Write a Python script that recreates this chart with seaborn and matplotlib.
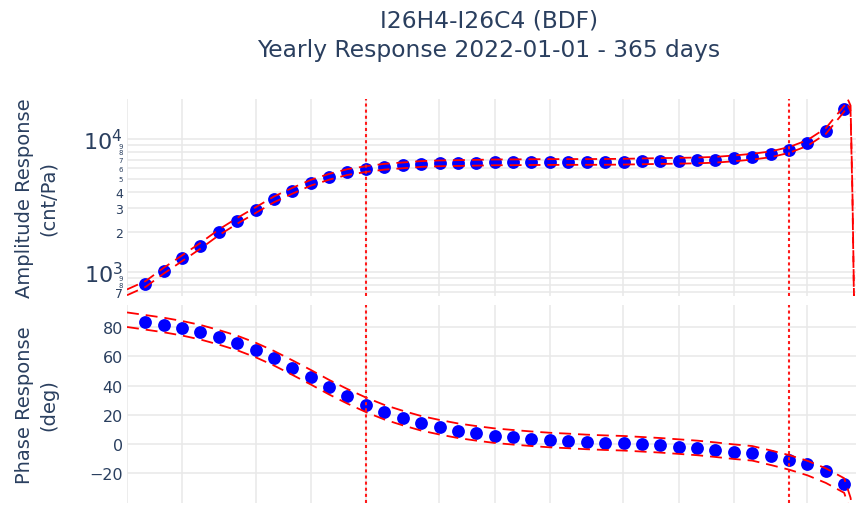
import matplotlib
matplotlib.use("Agg")
import matplotlib.pyplot as plt
import numpy as np
import pandas as pd
import seaborn as sns

# Measured response at the calibration frequencies (Hz)
freq_hz = [0.00126, 0.00158, 0.002, 0.00251, 0.00316, 0.00398, 0.00501, 0.00631, 0.00794,
           0.01, 0.0126, 0.0158, 0.02, 0.0251, 0.0316, 0.0398, 0.0501, 0.0631, 0.0794,
           0.1, 0.126, 0.158, 0.2, 0.251, 0.316, 0.398, 0.501, 0.631, 0.794,
           1.0, 1.26, 1.58, 2.0, 2.51, 3.16, 3.98, 5.01, 6.31, 7.94]
amp_cnt_pa = [808, 1017, 1268, 1571, 1982, 2423, 2916, 3514, 4078,
              4687, 5201, 5639, 5942, 6184, 6335, 6486, 6560, 6594, 6630,
              6670, 6680, 6700, 6710, 6720, 6720, 6730, 6750, 6790, 6830,
              6860, 6900, 6980, 7150, 7360, 7670, 8270, 9330, 11490, 16900]
phase_deg = [83.4, 81.6, 79.3, 76.6, 73.1, 69.2, 64.4, 58.7, 52.3,
             45.7, 38.8, 32.6, 26.7, 21.7, 17.7, 14.1, 11.4, 9.0, 7.2,
             5.6, 4.5, 3.5, 2.6, 2.0, 1.3, 0.8, 0.4, -0.3, -1.0,
             -1.9, -2.8, -4.0, -5.4, -6.5, -8.5, -10.9, -13.8, -18.8, -27.5]

# Nominal response used for the tolerance envelope
nom_freq_hz = [0.001] + freq_hz + [8.3, 8.6, 8.8, 9.0, 10.0]
nom_amp = [700] + amp_cnt_pa[:-1] + [16900, 19000, 17000, 4000, 500, 50]
nom_phase = ([85.2] + phase_deg[:34] + [-9.5, -12.7, -16.6, -21.8, -28.6]
             + [-36.0, -42.0, -50.0, -60.0, -90.0])
amp_tol = 0.05      # +/- 5 %
phase_tol = 5.0     # +/- 5 degrees

# Pass-band corners
corner_hz = [0.02, 4.0]

title_lines = ["I26H4-I26C4 (BDF)", "Yearly Response 2022-01-01 - 365 days"]

sns.set_theme(style="white")
plt.rcParams["font.family"] = ["DejaVu Sans"]
plt.rcParams["lines.scale_dashes"] = False
TXT = "#2a3f5f"
GRID = "#e8e8e8"

meas = pd.DataFrame({"freq": freq_hz, "amp": amp_cnt_pa, "phase": phase_deg})
nom = pd.DataFrame({"freq": nom_freq_hz, "amp": nom_amp, "phase": nom_phase})
nom["amp_hi"] = nom["amp"] * (1 + amp_tol)
nom["amp_lo"] = nom["amp"] * (1 - amp_tol)
nom["ph_hi"] = nom["phase"] + phase_tol
nom["ph_lo"] = nom["phase"] - phase_tol

W, H = 856, 506
fig = plt.figure(figsize=(W / 100, H / 100), dpi=100)


def box(l, t, r, b):
    return [l / W, 1 - b / H, (r - l) / W, (b - t) / H]


ax_amp = fig.add_axes(box(127, 100, 862.6, 297))
ax_ph = fig.add_axes(box(127, 306, 862.6, 504))

dash = (0, (8.6, 5.0))
for ax, ycol, lo, hi in [(ax_amp, "amp", "amp_lo", "amp_hi"), (ax_ph, "phase", "ph_lo", "ph_hi")]:
    ax.set_xscale("log")
    if ycol == "amp":
        ax.set_yscale("log")
    sns.scatterplot(data=meas, x="freq", y=ycol, ax=ax, color="#0000ff", s=85,
                    linewidth=0, zorder=3, legend=False)
    for col in (hi, lo):
        sns.lineplot(data=nom, x="freq", y=col, ax=ax, color="#ff0000", lw=1.3,
                     linestyle=dash, sort=False, estimator=None, zorder=4, legend=False)
    for fc in corner_hz:
        ax.axvline(fc, color="#ff1a1a", lw=1.5, linestyle=(0, (2.2, 2.2)), zorder=5)
    ax.set_xlim(0.001, 10)
    xt = [m * 10.0 ** e for e in range(-3, 1) for m in (1, 2, 5)] + [10]
    ax.set_xticks(xt)
    ax.set_xticks([], minor=True)
    ax.tick_params(axis="x", labelbottom=False, length=0)
    ax.tick_params(axis="y", length=0, pad=3, colors=TXT)
    ax.grid(True, axis="both", color=GRID, lw=1.1)
    ax.set_axisbelow(True)
    for s in ax.spines.values():
        s.set_visible(False)
    ax.set_xlabel("")

# Amplitude axis: log ticks with every intermediate digit labelled
ax_amp.set_ylim(10 ** 2.817, 10 ** 4.301)
yt, ylab, ysize = [], [], []
for e in (2, 3, 4):
    for m in range(1, 10):
        v = m * 10 ** e
        if 656 <= v < 20000:
            yt.append(v)
            if m == 1:
                ylab.append(r"$\mathregular{10^{%d}}$" % e)
                ysize.append(16)
            else:
                ylab.append(str(m))
                roomy = (e == 3 and m in (2, 3, 4)) or (e == 2 and m == 7)
                ysize.append(9 if roomy else 5)
ax_amp.set_yticks(yt)
ax_amp.set_yticks([], minor=True)
ax_amp.set_yticklabels(ylab)
for t, sz in zip(ax_amp.get_yticklabels(), ysize):
    t.set_fontsize(sz)

ax_ph.set_ylim(-40.6, 95.3)
ax_ph.set_yticks([-20, 0, 20, 40, 60, 80])
ax_ph.set_yticklabels(["\u221220", "0", "20", "40", "60", "80"], fontsize=11.5)

ax_amp.set_ylabel("Amplitude Response\n(cnt/Pa)", fontsize=14, color=TXT, linespacing=1.3)
ax_ph.set_ylabel("Phase Response\n(deg)", fontsize=14, color=TXT, linespacing=1.3)
ax_amp.yaxis.set_label_coords((58 - 127) / 735.6, 0.5)
ax_ph.yaxis.set_label_coords((58 - 127) / 735.6, 0.5)

fig.text(489 / W, 1 - 28 / H, title_lines[0], ha="center", va="baseline", fontsize=16.8, color=TXT)
fig.text(489 / W, 1 - 57 / H, title_lines[1], ha="center", va="baseline", fontsize=16.8, color=TXT)

fig.savefig("out.png", dpi=100)
